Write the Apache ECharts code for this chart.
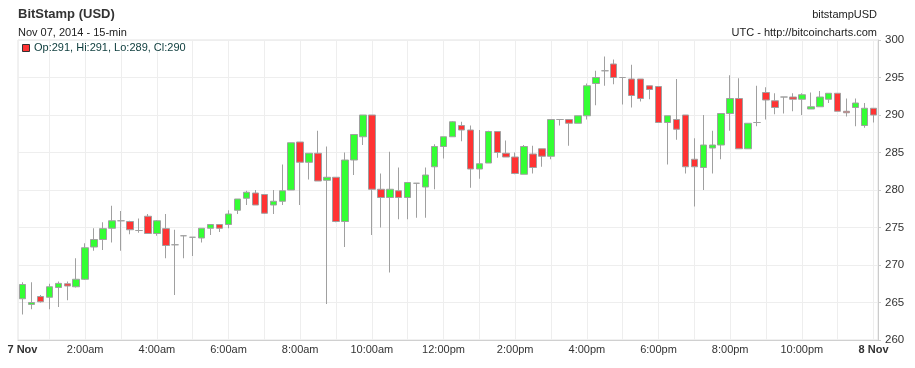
<!DOCTYPE html>
<html>
<head>
<meta charset="utf-8">
<script src="https://cdn.jsdelivr.net/npm/echarts@6/dist/echarts.min.js"></script>
<style>
html,body{margin:0;padding:0;background:#fff;}
#chart{width:915px;height:368px;}
</style>
</head>
<body>
<div id="chart"></div>
<script>
// 15-min candles, 7 Nov 2014 00:15 .. 8 Nov 00:00 (UTC)
const categories = [];
for (let i = 1; i <= 96; i++) {
  const m = i * 15;
  const h = Math.floor(m / 60) % 24, mm = m % 60;
  categories.push((h < 10 ? '0' : '') + h + ':' + (mm < 10 ? '0' : '') + mm);
}
const opens = [265.5,264.75,265.8,265.7,267.0,267.5,267.1,268.1,272.4,273.4,274.9,275.9,275.8,274.6,276.5,274.2,
  274.85,272.7,273.9,273.7,273.6,274.9,275.4,275.4,277.3,278.9,279.6,279.4,278.0,278.5,280.0,286.4,
  283.7,284.9,281.3,281.7,275.8,284.0,287.1,290.0,280.1,279.0,279.9,279.0,280.9,280.4,283.1,285.8,
  287.1,288.6,288.0,282.8,283.6,287.8,284.9,284.4,282.1,284.8,285.5,284.5,289.4,289.4,288.9,289.9,
  294.2,295.9,296.8,295.0,294.8,294.8,293.9,293.8,289.0,289.4,290.0,284.1,283.0,285.6,286.0,290.2,
  292.2,285.5,289.0,293.0,291.9,292.4,292.4,292.1,290.8,291.1,292.1,292.9,290.5,291.0,288.6,290.9];
const closes = [267.4,265.0,265.1,267.1,267.55,267.2,268.1,272.3,273.4,274.85,275.9,275.9,274.7,274.6,274.2,275.9,
  272.6,272.7,273.9,273.7,274.9,275.4,274.9,276.8,278.8,279.7,278.0,276.9,278.5,279.9,286.3,283.7,
  284.9,281.2,281.7,275.8,284.0,287.4,290.0,280.1,279.0,280.1,279.0,281.0,280.9,282.0,285.8,287.1,
  289.1,288.0,282.8,283.5,287.8,285.0,284.4,282.2,285.8,283.0,284.5,289.4,289.4,288.9,289.9,293.9,
  295.0,295.9,295.0,295.0,292.6,292.2,293.4,289.0,289.9,288.1,283.1,283.1,286.0,286.0,290.2,292.2,
  285.5,288.9,289.0,292.0,291.0,292.4,292.1,292.7,291.1,292.4,292.9,290.5,290.3,291.6,290.9,290.0];
const lows = [263.4,264.1,265.0,264.1,264.4,265.3,267.0,268.0,271.9,272.0,273.0,271.9,274.1,274.3,274.2,273.9,
  270.9,266.0,270.9,271.2,273.0,274.0,274.4,274.9,276.8,278.0,278.0,276.8,276.8,278.0,280.0,278.0,
  281.4,281.2,264.8,275.7,272.4,282.0,286.0,274.0,275.0,269.0,276.1,276.1,276.3,276.3,280.1,284.2,
  287.1,286.5,280.3,281.5,283.6,284.3,284.4,282.1,282.1,282.2,283.1,284.1,288.6,285.9,288.9,289.4,
  291.3,293.9,294.1,291.4,291.0,291.8,292.1,289.0,283.4,286.7,282.2,277.8,280.0,282.2,284.1,287.9,
  285.5,285.5,288.5,289.4,290.1,290.2,290.5,290.0,290.8,291.1,291.6,290.5,289.8,288.5,288.3,289.0];
const highs = [267.7,267.7,266.0,267.5,267.8,267.8,270.9,272.9,274.9,275.7,277.9,277.2,275.9,276.2,276.8,276.0,
  276.8,274.7,273.9,273.7,274.9,275.4,275.4,277.3,278.8,279.9,280.0,279.4,280.0,283.4,286.3,286.4,
  284.9,287.9,285.8,281.7,285.0,287.4,290.0,290.0,282.2,285.1,283.0,281.0,280.9,283.0,286.1,287.1,
  289.2,289.1,288.6,288.0,287.9,287.8,286.6,285.0,286.0,285.9,285.5,289.4,289.4,289.4,289.9,294.2,
  295.9,297.8,297.4,295.0,296.7,294.8,293.9,293.8,289.9,294.8,290.0,286.9,290.0,287.9,290.2,295.3,
  294.9,288.9,293.9,293.7,292.9,292.4,292.9,292.9,293.0,293.2,292.9,292.9,292.2,292.2,291.6,290.9];
const dayLabels = ['7 Nov', '8 Nov'];
const hourLabels = ['2:00am','4:00am','6:00am','8:00am','10:00am','12:00pm','2:00pm','4:00pm','6:00pm','8:00pm','10:00pm'];
const yTicks = [260, 265, 270, 275, 280, 285, 290, 295, 300];

const candleData = opens.map((o, i) => [o, closes[i], lows[i], highs[i]]);
const last = opens.length - 1;
const legendText = 'Op:' + Math.round(opens[last]) + ', Hi:' + Math.round(highs[last]) +
  ', Lo:' + Math.round(lows[last]) + ', Cl:' + Math.round(closes[last]);

const FONT = '"Liberation Sans", Arial, sans-serif';
const chart = echarts.init(document.getElementById('chart'), null, {renderer: 'canvas'});
chart.setOption({
  animation: false,
  backgroundColor: '#ffffff',
  grid: {left: 18, right: 37, top: 40, bottom: 28, show: true, borderColor: '#e2e2e2', borderWidth: 1},
  xAxis: {
    type: 'category',
    data: categories,
    boundaryGap: true,
    axisLine: {show: true, lineStyle: {color: '#d0d0d0', width: 1}},
    axisTick: {show: false},
    axisLabel: {
      interval: (i) => i === 0 || (i + 1) % 8 === 0,
      margin: 4,
      fontFamily: FONT,
      fontSize: 11,
      color: '#333',
      formatter: (v, i) => {
        if (i === 0) return '{b|' + dayLabels[0] + '}';
        if (i === last) return '{b|' + dayLabels[1] + '}';
        return hourLabels[(i + 1) / 8 - 1];
      },
      rich: {b: {fontWeight: 'bold', fontFamily: FONT, fontSize: 11, color: '#333'}}
    },
    splitLine: {show: true, interval: (i) => (i + 1) % 4 === 0, alignWithLabel: true,
      lineStyle: {color: '#eeeeee', width: 1}}
  },
  yAxis: {
    type: 'value',
    position: 'right',
    min: yTicks[0],
    max: yTicks[yTicks.length - 1],
    interval: 5,
    axisLine: {show: true, lineStyle: {color: '#cccccc', width: 1}},
    axisTick: {show: true, length: 3, lineStyle: {color: '#cccccc'}},
    axisLabel: {margin: 7, fontFamily: FONT, fontSize: 11.5, color: '#333'},
    splitLine: {show: true, lineStyle: {color: '#eeeeee', width: 1}}
  },
  series: [{
    type: 'candlestick',
    data: candleData,
    barWidth: 7,
    itemStyle: {
      color: '#33ff33',
      color0: '#ff3333',
      borderColor: '#a0a0a0',
      borderColor0: '#a0a0a0',
      borderColorDoji: '#a0a0a0',
      borderWidth: 1
    }
  }],
  graphic: [
    {type: 'text', z: 100, left: 18, top: 8, style: {text: 'BitStamp (USD)', font: 'bold 13px ' + FONT, fill: '#333'}},
    {type: 'text', z: 100, left: 18, top: 27, style: {text: 'Nov 07, 2014 - 15-min', font: '11px ' + FONT, fill: '#222'}},
    {type: 'text', z: 100, right: 38, top: 9, style: {text: 'bitstampUSD', font: '11px ' + FONT, fill: '#222', textAlign: 'right'}},
    {type: 'text', z: 100, right: 38, top: 27, style: {text: 'UTC - http://bitcoincharts.com', font: '11px ' + FONT, fill: '#222', textAlign: 'right'}},
    {type: 'rect', z: 100, left: 22, top: 44, shape: {width: 7, height: 7}, style: {fill: '#ff3333', stroke: '#333', lineWidth: 1}},
    {type: 'text', z: 100, left: 34, top: 42, style: {text: legendText, font: '11px ' + FONT, fill: '#0b3b3b'}}
  ]
});
</script>
</body>
</html>
